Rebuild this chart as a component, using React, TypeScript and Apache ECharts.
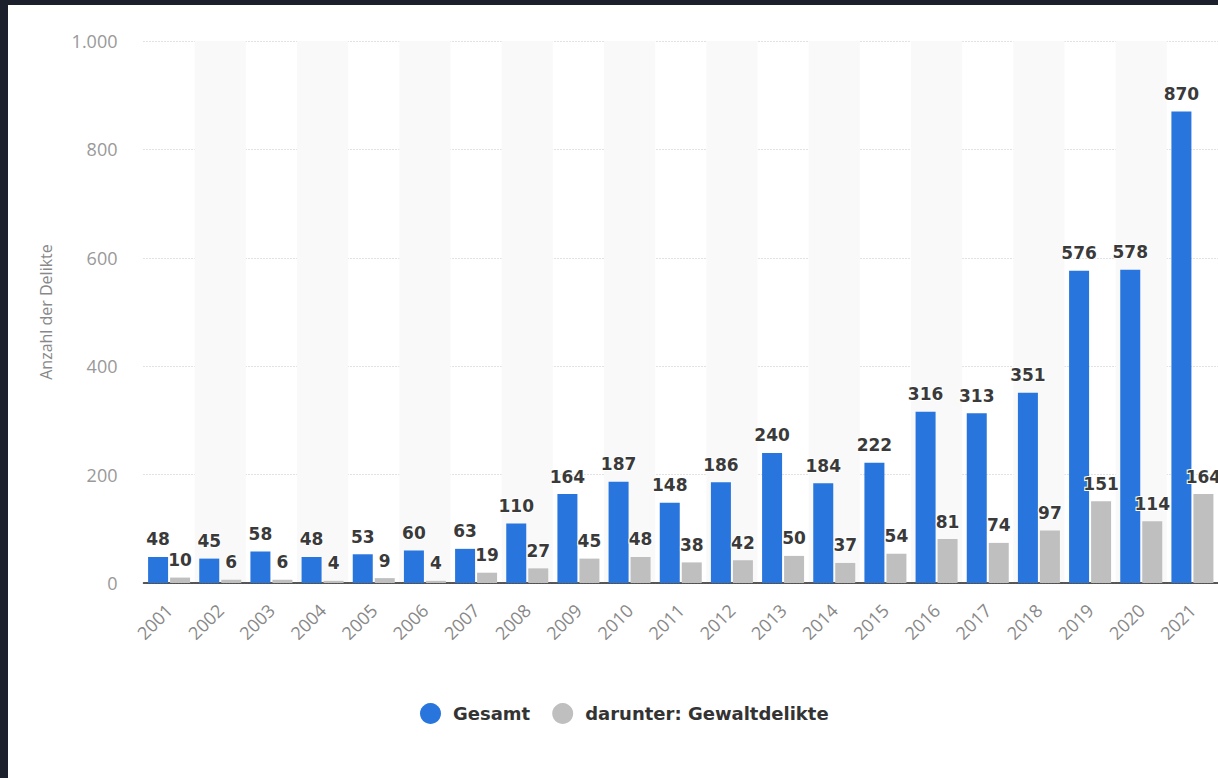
import React, { useEffect, useRef } from "react";
import * as echarts from "echarts";

const years = ["2001","2002","2003","2004","2005","2006","2007","2008","2009","2010","2011","2012","2013","2014","2015","2016","2017","2018","2019","2020","2021"];
const gesamt = [48,45,58,48,53,60,63,110,164,187,148,186,240,184,222,316,313,351,576,578,870];
const gewalt = [10,6,6,4,9,4,19,27,45,48,38,42,50,37,54,81,74,97,151,114,164];
const seriesNames = ["Gesamt", "darunter: Gewaltdelikte"];
const yAxisTitle = "Anzahl der Delikte";

export default function App() {
  const ref = useRef<HTMLDivElement>(null);
  useEffect(() => {
    document.body.style.margin = "0";
    document.body.style.background = "#1b202c";
    const chart = echarts.init(ref.current!, null, { renderer: "svg" });
    const label = {
      show: true,
      position: "top",
      distance: 9,
      fontFamily: "DejaVu Sans",
      fontWeight: "bold",
      fontSize: 17,
      color: "#3a3a3a",
      textBorderColor: "#ffffff",
      textBorderWidth: 2,
    };
    chart.setOption({
      animation: false,
      backgroundColor: "#ffffff",
      grid: { left: 135.5, right: 0, top: 36, bottom: 195, containLabel: false },
      legend: {
        data: seriesNames,
        left: 407,
        top: 693,
        icon: "circle",
        itemWidth: 21,
        itemHeight: 21,
        itemGap: 22,
        textStyle: {
          fontFamily: "DejaVu Sans",
          fontWeight: "bold",
          fontSize: 18,
          color: "#333333",
          padding: [0, 0, 0, 7],
        },
      },
      xAxis: {
        type: "category",
        data: years,
        axisTick: { show: false },
        axisLine: { show: true, lineStyle: { color: "#222222", width: 1.5 } },
        axisLabel: {
          rotate: 45,
          margin: 24,
          fontFamily: "Open Sans",
          fontSize: 18,
          color: "#888888",
        },
        splitArea: { show: true, areaStyle: { color: ["rgba(255,255,255,0)", "#f9f9f9"] } },
      },
      yAxis: {
        type: "value",
        min: 0,
        max: 1000,
        interval: 200,
        name: yAxisTitle,
        nameLocation: "middle",
        nameGap: 90,
        nameRotate: 90,
        nameTextStyle: { fontFamily: "Open Sans", fontSize: 16, color: "#888888" },
        axisLine: { show: false },
        axisTick: { show: false },
        axisLabel: {
          margin: 26,
          fontFamily: "Open Sans",
          fontSize: 18,
          color: "#999999",
          formatter: (v: number) => String(v).replace(/\B(?=(\d{3})+(?!\d))/g, "."),
        },
        splitLine: { show: true, lineStyle: { color: "#c4c4c4", type: [1, 2], width: 1 } },
      },
      series: [
        {
          name: seriesNames[0],
          type: "bar",
          data: gesamt,
          barWidth: 20,
          barGap: "10%",
          itemStyle: { color: "#2876dd" },
          label,
          z: 2,
        },
        {
          name: seriesNames[1],
          type: "bar",
          data: gewalt,
          barWidth: 20,
          barGap: "10%",
          itemStyle: { color: "#bfbfbf" },
          label,
          z: 3,
        },
      ],
    });
    return () => chart.dispose();
  }, []);
  return (
    <div style={{ position: "fixed", left: 0, top: 0, width: 1218, height: 778, background: "#1b202c" }}>
      <div ref={ref} style={{ position: "absolute", left: 8, top: 5, width: 1210, height: 773, background: "#ffffff" }} />
    </div>
  );
}
